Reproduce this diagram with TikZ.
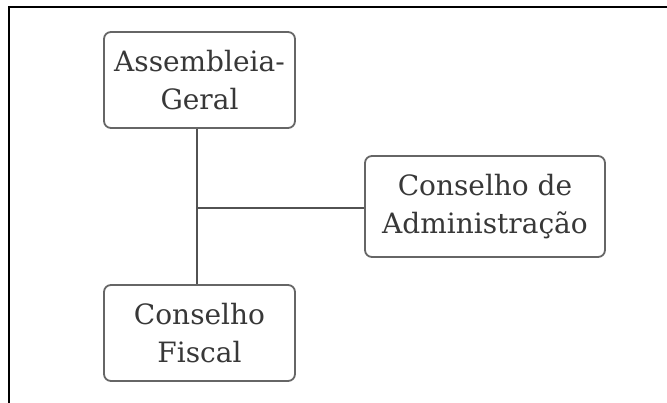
\documentclass[tikz,border=0pt]{standalone}
\usepackage{fontspec}
\setmainfont{DejaVu Serif}
\begin{document}
\begin{tikzpicture}[x=1pt,y=-1pt,
  orgbox/.style={draw=black!60, line width=1.8pt, rounded corners=7pt, fill=white,
    text=black!78, font=\fontsize{28}{38}\selectfont, align=center, inner sep=0pt},
  link/.style={draw=black!68, line width=1.6pt},
  frame/.style={draw=black, line width=2.4pt}]
\useasboundingbox (0,0) rectangle (667,403);
\draw[frame] (667,7) -- (9,7) -- (9,403);
\node[orgbox, minimum width=191pt, minimum height=96pt] (ag) at (199.5,80) {Assembleia-\\Geral};
\node[orgbox, minimum width=240pt, minimum height=101pt] (ca) at (485,206.5) {Conselho de\\Administração};
\node[orgbox, minimum width=191pt, minimum height=96pt] (cf) at (199.5,333) {Conselho\\Fiscal};
\coordinate (j) at (197,208);
\draw[link] (ag.south -| j) -- (cf.north -| j);
\draw[link] (j) -- (ca.west |- j);
\end{tikzpicture}
\end{document}
